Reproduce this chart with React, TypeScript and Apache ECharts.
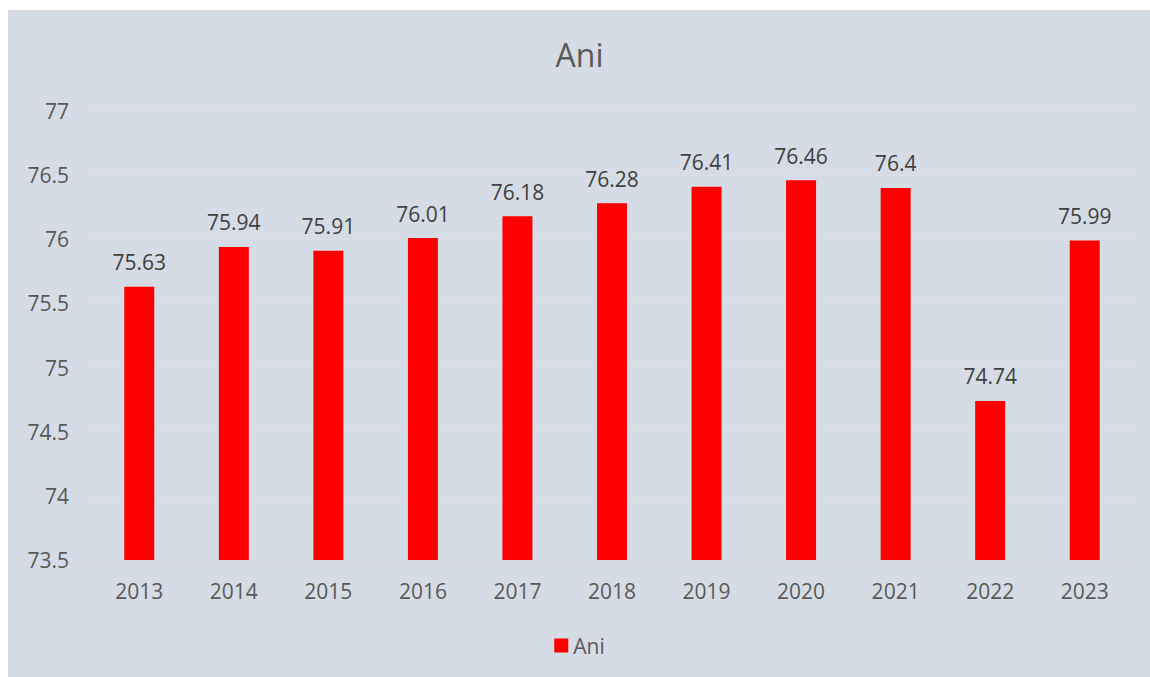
import React, { useEffect, useRef } from "react";
import * as echarts from "echarts";

const categories = ["2013", "2014", "2015", "2016", "2017", "2018", "2019", "2020", "2021", "2022", "2023"];
const values = [75.63, 75.94, 75.91, 76.01, 76.18, 76.28, 76.41, 76.46, 76.4, 74.74, 75.99];
const seriesName = "Ani";

export default function App() {
  const ref = useRef<HTMLDivElement>(null);
  useEffect(() => {
    if (!ref.current) return;
    const chart = echarts.init(ref.current, undefined, { renderer: "svg" });
    const font = "'Open Sans', 'Noto Sans', sans-serif";
    chart.setOption({
      animation: false,
      backgroundColor: "#D6DCE5",
      textStyle: { fontFamily: font },
      title: {
        text: "Ani",
        left: "center",
        top: 22,
        textStyle: { fontSize: 32, fontWeight: "normal", color: "#595959", fontFamily: font },
      },
      legend: {
        bottom: 16,
        left: "center",
        itemWidth: 14,
        itemHeight: 14,
        icon: "rect",
        itemGap: 6,
        textStyle: { fontSize: 21, color: "#595959", fontFamily: font },
        data: [seriesName],
      },
      grid: { left: 83, right: 18, top: 100, bottom: 117 },
      xAxis: {
        type: "category",
        data: categories,
        axisLine: { lineStyle: { color: "#D9D9D9", width: 1 } },
        axisTick: { show: false },
        axisLabel: { fontSize: 21, color: "#595959", margin: 20, fontFamily: font },
      },
      yAxis: {
        type: "value",
        min: 73.5,
        max: 77,
        interval: 0.5,
        axisLine: { show: false },
        axisTick: { show: false },
        splitLine: { lineStyle: { color: "#DDDFE2", width: 1 } },
        axisLabel: { fontSize: 21, color: "#595959", margin: 23, fontFamily: font },
      },
      series: [
        {
          name: seriesName,
          type: "bar",
          data: values,
          barWidth: 30,
          itemStyle: { color: "#FF0000" },
          label: {
            show: true,
            position: "top",
            distance: 14,
            fontSize: 21,
            color: "#404040",
            fontFamily: font,
          },
        },
      ],
    });
    return () => chart.dispose();
  }, []);
  return (
    <div
      ref={ref}
      style={{
        position: "absolute",
        left: 8,
        top: 10,
        width: 1142,
        height: 667,
        boxSizing: "border-box",
        borderLeft: "1px solid #D9D9D9",
        borderTop: "1px solid #D9D9D9",
      }}
    />
  );
}
